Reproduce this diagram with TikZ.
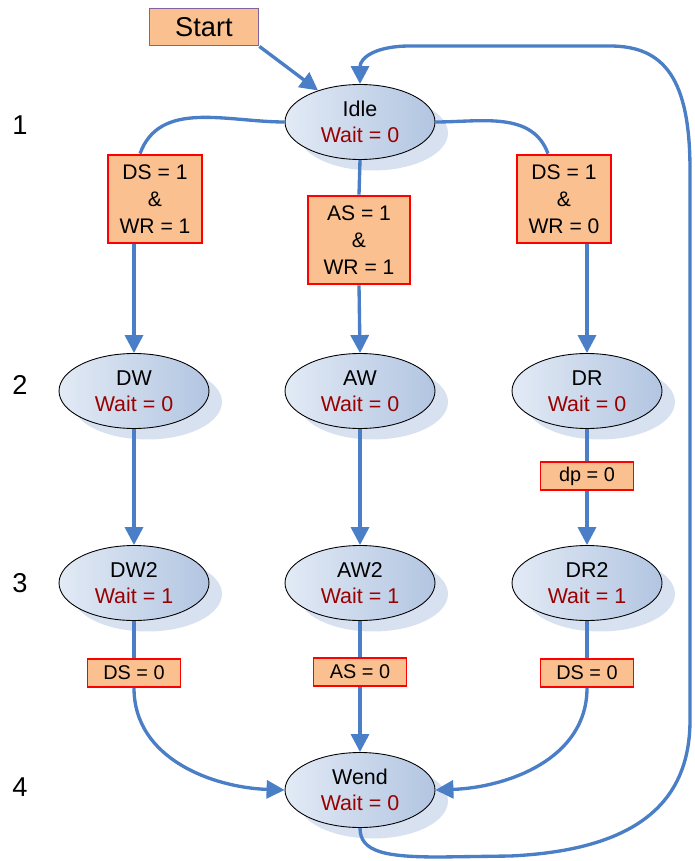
\documentclass[tikz,border=0pt]{standalone}
\usepackage{fontspec}
\setmainfont{Liberation Sans}
\usepackage{tikz}
\usetikzlibrary{arrows.meta,shapes.geometric,shadows}
\definecolor{fsm-blue}{HTML}{4A7EC6}
\definecolor{cond-fill}{HTML}{FAC090}
\definecolor{cond-red}{HTML}{FF0000}
\definecolor{start-edge}{HTML}{8064A2}
\definecolor{state-light}{HTML}{E2EAF5}
\definecolor{state-dark}{HTML}{B2C5E1}
\definecolor{state-shadow}{HTML}{D3DEEE}
\definecolor{wait-red}{HTML}{990000}

\begin{document}
\begin{tikzpicture}[x=0.02cm, y=-0.02cm,
  state/.style={ellipse, draw=black, line width=0.5pt, shading angle=60,
                left color=state-light, right color=state-dark,
                minimum width=3cm, minimum height=1.5cm, inner sep=0pt, align=center,
                font=\fontsize{12.2}{14.7}\selectfont,
                drop shadow={shadow xshift=0.26cm, shadow yshift=-0.22cm, fill=state-shadow, opacity=0.9}},
  cond/.style={rectangle, draw=cond-red, line width=1.5pt, fill=cond-fill,
               minimum width=1.88cm, minimum height=1.76cm, inner sep=0pt, align=center,
               font=\fontsize{12}{15.3}\selectfont},
  guard/.style={rectangle, draw=cond-red, line width=1.1pt, fill=cond-fill,
                minimum width=1.86cm, minimum height=0.56cm, inner sep=0pt,
                font=\fontsize{11.3}{13}\selectfont},
  startbox/.style={rectangle, draw=start-edge, line width=1.1pt, fill=cond-fill,
                   minimum width=2.18cm, minimum height=0.74cm, inner sep=0pt,
                   font=\fontsize{15.5}{18}\selectfont},
  rowlbl/.style={font=\fontsize{15.5}{18}\selectfont},
  link/.style={line width=1.9pt, draw=fsm-blue},
  arr/.style={link, -{Triangle[length=0.36cm,width=0.36cm]}}]

  \useasboundingbox (0,0) rectangle (694,861);

  \node[startbox] (start) at (204,27) {Start};

  \node[rowlbl] (row1) at (20,125) {1};
  \node[rowlbl] (row2) at (20,385) {2};
  \node[rowlbl] (row3) at (20,583) {3};
  \node[rowlbl] (row4) at (20,787) {4};

  \node[state] (idle) at (360,122) {Idle\\\textcolor{wait-red}{Wait = 0}};

  \node[cond] (condL) at (155,199) {DS = 1\\\&\\WR = 1};
  \node[cond, minimum width=2.04cm] (condM) at (359,240) {AS = 1\\\&\\WR = 1};
  \node[cond] (condR) at (564,199) {DS = 1\\\&\\WR = 0};

  \node[state] (dw) at (134,391) {DW\\\textcolor{wait-red}{Wait = 0}};
  \node[state] (aw) at (360,391) {AW\\\textcolor{wait-red}{Wait = 0}};
  \node[state] (dr) at (587,391) {DR\\\textcolor{wait-red}{Wait = 0}};

  \node[guard] (dp) at (587,476) {dp = 0};

  \node[state] (dw2) at (134,583) {DW2\\\textcolor{wait-red}{Wait = 1}};
  \node[state] (aw2) at (360,583) {AW2\\\textcolor{wait-red}{Wait = 1}};
  \node[state] (dr2) at (587,583) {DR2\\\textcolor{wait-red}{Wait = 1}};

  \node[guard] (dsL) at (134,673) {DS = 0};
  \node[guard] (asM) at (360,672) {AS = 0};
  \node[guard] (dsR) at (587,673) {DS = 0};

  \node[state] (wend) at (360,790) {Wend\\\textcolor{wait-red}{Wait = 0}};

  \draw[arr] (start.south east) -- (idle);

  \draw[link] (idle.west) to[out=180,in=70] ([xshift=-0.3cm]condL.north);
  \draw[arr] (dw.north |- condL.south) -- (dw.north);
  \draw[link] (idle.south) -- (condM.north);
  \draw[arr] (condM.south) -- (aw.north);
  \draw[link] (idle.east) to[out=0,in=110] ([xshift=-0.32cm]condR.north);
  \draw[arr] (dr.north |- condR.south) -- (dr.north);

  \draw[arr] (dw.south) -- (dw2.north);
  \draw[arr] (aw.south) -- (aw2.north);
  \draw[link] (dr.south) -- (dp.north);
  \draw[arr] (dp.south) -- (dr2.north);

  \draw[link] (dw2.south) -- (dsL.north);
  \draw[link] (aw2.south) -- (asM.north);
  \draw[link] (dr2.south) -- (dsR.north);
  \draw[arr] (dsL.south) to[out=-90,in=178] (wend.west);
  \draw[arr] (asM.south) -- (wend.north);
  \draw[arr] (dsR.south) to[out=-90,in=2] (wend.east);

  \draw[arr] (wend.south) .. controls (360,852) and (385,857) .. (440,857) -- (510,856)
    .. controls (640,850) and (690,800) .. (690,720) -- (690,170)
    .. controls (690,80) and (665,46) .. (610,46) -- (410,46)
    .. controls (375,46) and (360,58) .. (idle.north);

\end{tikzpicture}
\end{document}
